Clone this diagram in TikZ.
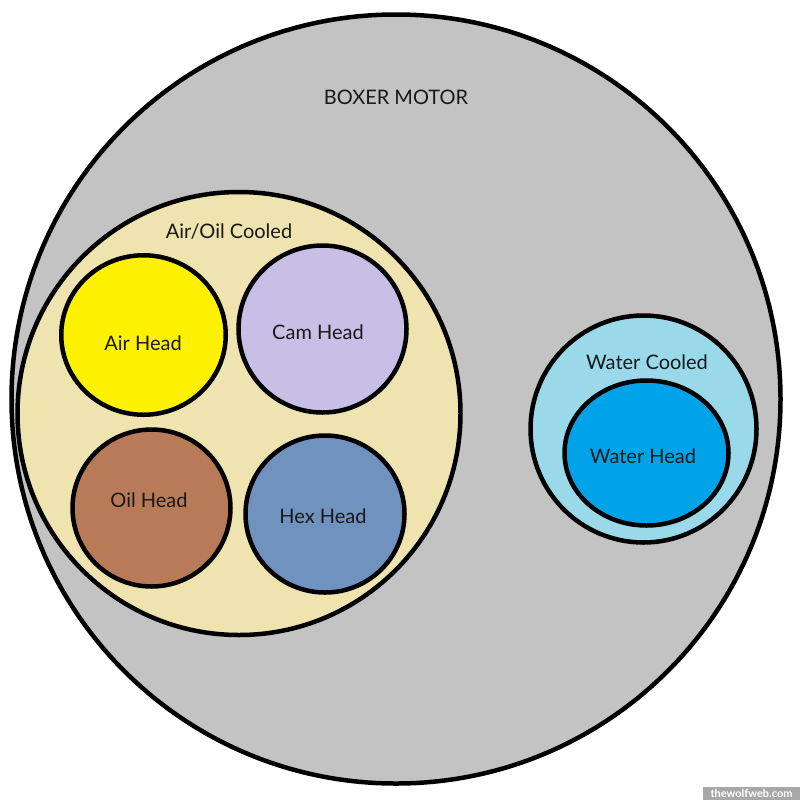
\documentclass[tikz,border=0pt]{standalone}
\usepackage{fontspec}
\setmainfont{Lato}
\usetikzlibrary{shapes.geometric}
\definecolor{motorgray}{HTML}{C3C3C3}
\definecolor{tanfill}{HTML}{EFE4B0}
\definecolor{airyellow}{HTML}{FFF200}
\definecolor{camlav}{HTML}{C8BFE7}
\definecolor{oilbrown}{HTML}{B97A57}
\definecolor{hexblue}{HTML}{7092BE}
\definecolor{wcblue}{HTML}{99D9EA}
\definecolor{whblue}{HTML}{00A2E8}
\definecolor{wmgray}{HTML}{A8A8A8}
\tikzset{
  blob/.style={ellipse, draw=black, line width=4.5pt, inner sep=0pt, outer sep=0pt},
  lbl/.style={font=\fontsize{20}{22}\selectfont, text=black!90, inner sep=0pt}
}
\begin{document}
\begin{tikzpicture}[x=1pt,y=-1pt]
\useasboundingbox (0,0) rectangle (802,801);
\fill[white] (0,0) rectangle (802,801);
\node[blob, fill=motorgray, minimum width=769pt, minimum height=769pt] (motor) at (396,399) {};
\node[blob, fill=tanfill, minimum width=443pt, minimum height=443pt] (airoil) at (239,413.5) {};
\node[blob, fill=airyellow, minimum width=164.5pt, minimum height=159.5pt] (air) at (143.5,335) {};
\node[blob, fill=camlav, minimum width=168pt, minimum height=167pt] (cam) at (322.5,329) {};
\node[blob, fill=oilbrown, minimum width=158pt, minimum height=157pt] (oil) at (151.5,508) {};
\node[blob, fill=hexblue, minimum width=159pt, minimum height=157pt] (hex) at (325,514) {};
\node[blob, fill=wcblue, minimum width=226pt, minimum height=227pt] (water) at (643.5,429) {};
\node[blob, fill=whblue, minimum width=164pt, minimum height=145pt] (whead) at (646.5,453) {};
\node[lbl] (tmotor) at (396,97) {BOXER MOTOR};
\node[lbl] (tairoil) at (229,232) {Air/Oil Cooled};
\node[lbl] (tair) at (143,343) {Air Head};
\node[lbl] (tcam) at (318,332) {Cam Head};
\node[lbl] (toil) at (149,500) {Oil Head};
\node[lbl] (thex) at (323,516) {Hex Head};
\node[lbl] (twater) at (647,362) {Water Cooled};
\node[lbl] (twhead) at (643,456) {Water Head};
\fill[wmgray] (703,787) rectangle (800,800);
\node[font=\bfseries\fontsize{11}{11}\selectfont, text=white, inner sep=0pt] (wm) at (751.5,793.5) {thewolfweb.com};
\end{tikzpicture}
\end{document}
